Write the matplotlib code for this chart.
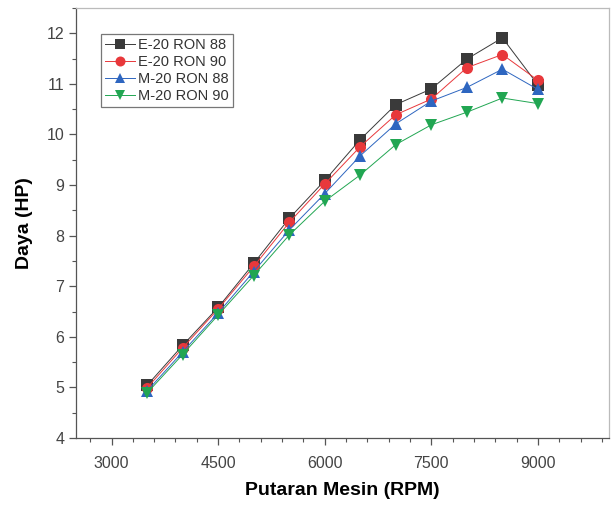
import matplotlib
matplotlib.use("Agg")
import matplotlib.pyplot as plt
from matplotlib.ticker import MultipleLocator

plt.rcParams['font.family'] = ['Liberation Sans', 'DejaVu Sans']

rpm = [3500, 4000, 4500, 5000, 5500, 6000, 6500, 7000, 7500, 8000, 8500, 9000]
e20_88 = [5.04, 5.83, 6.58, 7.45, 8.34, 9.09, 9.90, 10.59, 10.90, 11.49, 11.91, 10.98]
e20_90 = [4.99, 5.78, 6.55, 7.39, 8.26, 9.02, 9.76, 10.39, 10.70, 11.32, 11.58, 11.07]
m20_88 = [4.93, 5.70, 6.47, 7.29, 8.11, 8.83, 9.58, 10.21, 10.66, 10.93, 11.29, 10.89]
m20_90 = [4.89, 5.65, 6.43, 7.21, 8.01, 8.68, 9.20, 9.80, 10.19, 10.44, 10.72, 10.61]

series = [
    ("E-20 RON 88", e20_88, "#3a3a3a", "s"),
    ("E-20 RON 90", e20_90, "#e8383b", "o"),
    ("M-20 RON 88", m20_88, "#2e66c0", "^"),
    ("M-20 RON 90", m20_90, "#21a652", "v"),
]

fig = plt.figure(figsize=(6.11, 5.08), dpi=100)
ax = fig.add_axes([0.1244, 0.1378, 0.8723, 0.8465])

for label, vals, col, mk in series:
    ax.plot(rpm, vals, color=col, marker=mk, markersize=8, linewidth=0.7,
            label=label, markeredgewidth=0)

ax.set_xlim(2500, 10000)
ax.set_ylim(4, 12.5)
ax.xaxis.set_major_locator(MultipleLocator(1500))
ax.xaxis.set_minor_locator(MultipleLocator(300))
ax.yaxis.set_major_locator(MultipleLocator(1))
ax.yaxis.set_minor_locator(MultipleLocator(0.5))

for s in ax.spines.values():
    s.set_color("#555555")
    s.set_linewidth(0.9)
ax.spines['top'].set_color("#bbbbbb")
ax.spines['right'].set_color("#bbbbbb")

ax.tick_params(which='major', direction='out', length=5, width=0.9, color="#555555",
               labelsize=11.5, labelcolor="#444444")
ax.tick_params(which='minor', direction='out', length=3, width=0.8, color="#555555")
ax.tick_params(axis='x', pad=8)

ax.set_xlabel("Putaran Mesin (RPM)", fontsize=14, fontweight='bold', labelpad=8)
ax.set_ylabel("Daya (HP)", fontsize=14, fontweight='bold', labelpad=10)

leg = ax.legend(loc='upper left', bbox_to_anchor=(0.047, 0.9395), fontsize=10.5,
                frameon=True, fancybox=False, edgecolor="#555555",
                handlelength=2.1, borderpad=0.25, borderaxespad=0,
                labelspacing=0.22, handletextpad=0.2, markerscale=0.9)
leg.get_frame().set_linewidth(0.9)
for t in leg.get_texts():
    t.set_color("#333333")

fig.savefig("out.png", dpi=100)
